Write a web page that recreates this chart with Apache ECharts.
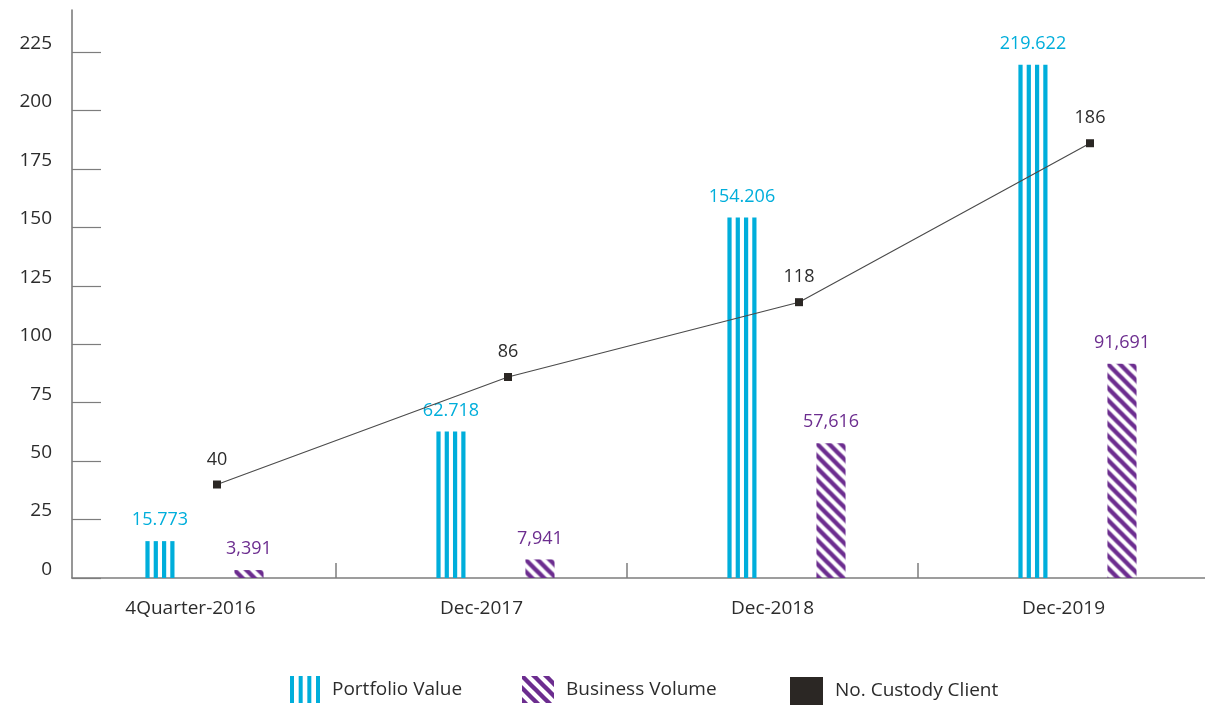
<!DOCTYPE html>
<html>
<head>
<meta charset="utf-8">
<title>Custody Services</title>
<script src="https://cdn.jsdelivr.net/npm/echarts@6/dist/echarts.min.js"></script>
<style>
  html, body { margin: 0; padding: 0; background: #ffffff; }
  #chart { width: 1205px; height: 705px; }
</style>
</head>
<body>
<div id="chart"></div>
<script>
// ---- data ----
const categories = ['4Quarter-2016', 'Dec-2017', 'Dec-2018', 'Dec-2019'];
const portfolioValue = [15.773, 62.718, 154.206, 219.622];
const businessVolume = [3.391, 7.941, 57.616, 91.691];
const custodyClients = [40, 86, 118, 186];
const yTicks = [0, 25, 50, 75, 100, 125, 150, 175, 200, 225];
const yMax = 243;

// ---- styling ----
const FONT = '"Open Sans", "Noto Sans", sans-serif';
const CYAN = '#00aedb';
const PURPLE = '#6c2d8f';
const INK = '#2b2724';
const TEXT = '#2c2c2c';
const AXIS = '#7d7d7d';

const BAND_SPAN = 1164;        // width covered by the four category bands
const BAR_FRAC = 0.1;          // bar width as a share of the category band
const PORTFOLIO_SLOT = -0.105; // bar centre offset inside the band
const BUSINESS_SLOT = 0.201;

// diagonal "\" stripe tile
function diagonalTile(period, lineWidth, color) {
  const c = document.createElement('canvas');
  c.width = period; c.height = period;
  const ctx = c.getContext('2d');
  ctx.strokeStyle = color;
  ctx.lineWidth = lineWidth;
  for (let k = -1; k <= 1; k++) {
    ctx.beginPath();
    ctx.moveTo(k * period - 2, -2);
    ctx.lineTo(k * period + period + 2, period + 2);
    ctx.stroke();
  }
  return c;
}
const diagTile = diagonalTile(12, 4.4, PURPLE);

// legend swatches
function verticalSwatch(w, h) {
  const c = document.createElement('canvas');
  c.width = w; c.height = h;
  const ctx = c.getContext('2d');
  ctx.fillStyle = CYAN;
  const sw = 4;
  for (let k = 0; k < 4; k++) ctx.fillRect(k * (w - sw) / 3, 0, sw, h);
  return c.toDataURL();
}
function diagonalSwatch(w, h) {
  const c = document.createElement('canvas');
  c.width = w; c.height = h;
  const ctx = c.getContext('2d');
  ctx.fillStyle = ctx.createPattern(diagTile, 'repeat');
  ctx.fillRect(0, 0, w, h);
  return c.toDataURL();
}

function barGeometry(api, slot) {
  const idx = api.value(0);
  const val = api.value(1);
  const band = api.size([1, 0])[0];
  const w = band * BAR_FRAC;
  const top = api.coord([idx, val]);
  const base = api.coord([idx, 0]);
  const cx = top[0] + band * slot;
  return { x: cx - w / 2, y: top[1], w: w, h: base[1] - top[1], cx: cx };
}

function labelEl(cx, y, text, color) {
  return {
    type: 'text',
    x: cx, y: y - 12,
    style: {
      text: text, fill: color, fontSize: 18, fontFamily: FONT,
      align: 'center', verticalAlign: 'bottom'
    }
  };
}

function renderPortfolio(params, api) {
  const g = barGeometry(api, PORTFOLIO_SLOT);
  const sw = g.w * 0.145;
  const children = [];
  for (let k = 0; k < 4; k++) {
    children.push({
      type: 'rect',
      shape: { x: g.x + k * (g.w - sw) / 3, y: g.y, width: sw, height: g.h },
      style: { fill: CYAN }
    });
  }
  children.push(labelEl(g.cx, g.y, api.value(1).toFixed(3), CYAN));
  return { type: 'group', children: children };
}

function renderBusiness(params, api) {
  const g = barGeometry(api, BUSINESS_SLOT);
  return {
    type: 'group',
    children: [
      {
        type: 'rect',
        x: g.x, y: g.y,
        shape: { x: 0, y: 0, width: g.w, height: g.h },
        style: { fill: { image: diagTile, repeat: 'repeat' } }
      },
      labelEl(g.cx, g.y, api.value(1).toFixed(3).replace('.', ','), PURPLE)
    ]
  };
}

const chart = echarts.init(document.getElementById('chart'), null, { renderer: 'canvas' });

const legendText = { color: TEXT, fontSize: 19, fontFamily: FONT, padding: [7, 0, 0, 7] };

chart.setOption({
  animation: false,
  backgroundColor: '#ffffff',
  textStyle: { fontFamily: FONT },
  grid: [
    // bars + category labels
    { left: 45, width: BAND_SPAN, top: 10, bottom: 127, outerBoundsMode: 'none', containLabel: false },
    // axis frame
    { left: 72, right: 0, top: 10, bottom: 127, outerBoundsMode: 'none', containLabel: false },
    // client line
    { left: 71.5, width: BAND_SPAN, top: 10, bottom: 127, outerBoundsMode: 'none', containLabel: false }
  ],
  xAxis: [
    {
      type: 'category', gridIndex: 0, data: categories, boundaryGap: true,
      axisLine: { show: false },
      axisTick: {
        show: true, inside: true, length: 15,
        interval: function (idx) { return idx !== 0; },
        lineStyle: { color: AXIS, width: 1.5 }
      },
      axisLabel: { color: TEXT, fontSize: 19, fontFamily: FONT, margin: 21 }
    },
    {
      type: 'value', gridIndex: 1, min: 0, max: 1,
      axisLine: { show: true, lineStyle: { color: AXIS, width: 1.6 } },
      axisTick: { show: false }, axisLabel: { show: false }, splitLine: { show: false }
    },
    {
      type: 'category', gridIndex: 2, data: categories, show: false
    }
  ],
  yAxis: [
    { type: 'value', gridIndex: 0, min: 0, max: yMax, show: false, splitLine: { show: false } },
    {
      type: 'value', gridIndex: 1, min: 0, max: yMax,
      axisLine: { show: true, lineStyle: { color: AXIS, width: 1.6 } },
      axisTick: {
        show: true, inside: true, length: 29, customValues: yTicks,
        lineStyle: { color: AXIS, width: 1.2 }
      },
      axisLabel: {
        customValues: yTicks, color: TEXT, fontSize: 19, fontFamily: FONT,
        margin: 20, verticalAlign: 'bottom', lineHeight: 17
      },
      splitLine: { show: false }
    },
    { type: 'value', gridIndex: 2, min: 0, max: yMax, show: false, splitLine: { show: false } }
  ],
  legend: [
    {
      left: 290, top: 676, padding: 0, itemWidth: 30, itemHeight: 27, selectedMode: false,
      data: [{ name: 'Portfolio Value', icon: 'image://' + verticalSwatch(30, 27) }],
      textStyle: legendText
    },
    {
      left: 522, top: 676, padding: 0, itemWidth: 32, itemHeight: 27, selectedMode: false,
      data: [{ name: 'Business Volume', icon: 'image://' + diagonalSwatch(32, 27) }],
      textStyle: legendText
    },
    {
      left: 790, top: 677, padding: 0, itemWidth: 33, itemHeight: 28, selectedMode: false,
      data: [{ name: 'No. Custody Client', icon: 'rect' }],
      itemStyle: { color: INK },
      textStyle: legendText
    }
  ],
  series: [
    {
      name: 'Portfolio Value', type: 'custom', xAxisIndex: 0, yAxisIndex: 0,
      renderItem: renderPortfolio, itemStyle: { color: CYAN },
      encode: { x: 0, y: 1 },
      data: portfolioValue.map(function (v, i) { return [i, v]; }),
      z: 2
    },
    {
      name: 'Business Volume', type: 'custom', xAxisIndex: 0, yAxisIndex: 0,
      renderItem: renderBusiness, itemStyle: { color: PURPLE },
      encode: { x: 0, y: 1 },
      data: businessVolume.map(function (v, i) { return [i, v]; }),
      z: 2
    },
    {
      name: 'No. Custody Client', type: 'line', xAxisIndex: 2, yAxisIndex: 2,
      data: custodyClients,
      symbol: 'rect', symbolSize: 8,
      itemStyle: { color: INK },
      lineStyle: { color: '#4a4a4a', width: 1.1 },
      label: {
        show: true, position: 'top', distance: 12,
        color: TEXT, fontSize: 18, fontFamily: FONT
      },
      z: 3
    }
  ]
});
</script>
</body>
</html>
